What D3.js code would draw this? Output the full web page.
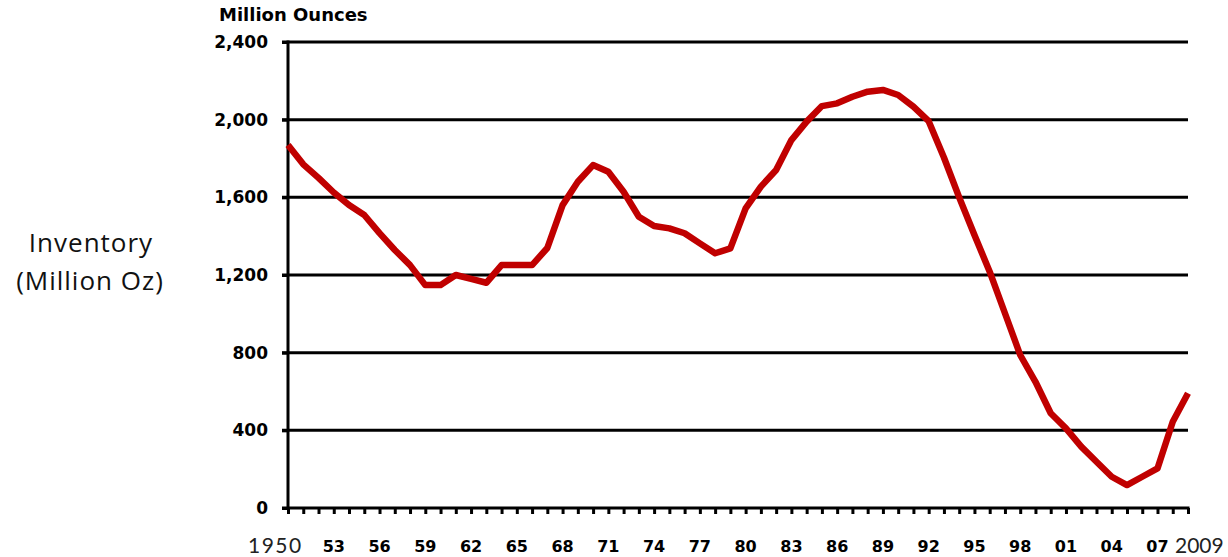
<!DOCTYPE html>
<html>
<head>
<meta charset="utf-8" />
<script src="https://d3js.org/d3.v7.min.js"></script>
<style>
body { margin: 0; background: #fff; }
.ylab text { font-family: "DejaVu Sans", sans-serif; font-weight: bold; font-size: 17px; fill: #000; }
.xlab { font-family: "DejaVu Sans", sans-serif; font-weight: bold; font-size: 16px; fill: #000; }
.xend { font-family: Lato, "Open Sans", sans-serif; font-size: 21px; fill: #222; }
.title { font-family: "DejaVu Sans", sans-serif; font-weight: bold; font-size: 18px; }
.side { font-family: "Open Sans", Lato, sans-serif; font-size: 26px; fill: #111; letter-spacing: 1px; }
</style>
</head>
<body>
<script>
// silver inventory, million oz, one value per year 1950..2009
var years = d3.range(1950, 2010);
var inventory = [
  1870, 1770, 1700, 1625, 1560, 1509, 1416, 1329, 1251, 1148,
  1148, 1200, 1180, 1160, 1251, 1251, 1251, 1339, 1560, 1680,
  1766, 1732, 1629, 1500, 1452, 1440, 1415, 1363, 1312, 1337,
  1543, 1655, 1741, 1895, 1990, 2070, 2084, 2118, 2144, 2153,
  2127, 2067, 1992, 1805, 1600, 1406, 1217, 1003, 788, 650,
  488, 410, 316, 238, 161, 118, 161, 204, 444, 591
];
var yTicks = [0, 400, 800, 1200, 1600, 2000, 2400];
var xLabelYears = d3.range(1953, 2008, 3);

var width = 1228, height = 557;
var x = d3.scaleLinear().domain([1950, 2009]).range([288, 1188]);
var y = d3.scaleLinear().domain([0, 2400]).range([508, 42]);

var svg = d3.select("body").append("svg")
    .attr("width", width)
    .attr("height", height);

// horizontal grid lines
svg.append("g").selectAll("line")
    .data(yTicks.slice(1))
  .enter().append("line")
    .attr("x1", 282).attr("x2", 1188)
    .attr("y1", function(d) { return y(d); })
    .attr("y2", function(d) { return y(d); })
    .attr("stroke", "#000").attr("stroke-width", 3);

// y axis with labels
var yAxis = svg.append("g")
    .attr("class", "ylab")
    .attr("transform", "translate(288,0)")
    .call(d3.axisLeft(y).tickValues(yTicks).tickSize(6).tickPadding(14).tickFormat(d3.format(",")));
yAxis.select(".domain").remove();
yAxis.selectAll(".tick line").attr("stroke", "#000").attr("stroke-width", 3);

svg.append("line")
    .attr("x1", 288).attr("x2", 288)
    .attr("y1", y(2400) - 1.5).attr("y2", y(0) + 1.5)
    .attr("stroke", "#000").attr("stroke-width", 3);

// x axis: small tick every year
var xAxis = svg.append("g")
    .attr("transform", "translate(0," + y(0) + ")")
    .call(d3.axisBottom(x).tickValues(years).tickSize(6).tickFormat(""));
xAxis.select(".domain").remove();
xAxis.selectAll(".tick line").attr("stroke", "#000").attr("stroke-width", 3);

svg.append("line")
    .attr("x1", 282).attr("x2", 1189.5)
    .attr("y1", y(0)).attr("y2", y(0))
    .attr("stroke", "#000").attr("stroke-width", 3);

// x labels
svg.append("g").selectAll("text")
    .data(xLabelYears)
  .enter().append("text")
    .attr("class", "xlab")
    .attr("x", function(d) { return x(d); })
    .attr("y", 552)
    .attr("text-anchor", "middle")
    .text(function(d) { return String(d).slice(2); });

svg.append("text").attr("class", "xend")
    .attr("x", 248).attr("y", 553)
    .style("letter-spacing", "1.5px")
    .text("1950");
svg.append("text").attr("class", "xend")
    .attr("x", 1175).attr("y", 553)
    .text("2009");

// data line
var line = d3.line()
    .x(function(d, i) { return x(years[i]); })
    .y(function(d) { return y(d); });

svg.append("path")
    .datum(inventory)
    .attr("fill", "none")
    .attr("stroke", "#c00000")
    .attr("stroke-width", 6.5)
    .attr("stroke-linejoin", "round")
    .attr("d", line);

// titles
svg.append("text").attr("class", "title")
    .attr("x", 219).attr("y", 21)
    .text("Million Ounces");

svg.append("text").attr("class", "side")
    .attr("x", 91).attr("y", 252)
    .attr("text-anchor", "middle")
    .text("Inventory");
svg.append("text").attr("class", "side")
    .attr("x", 90).attr("y", 290)
    .attr("text-anchor", "middle")
    .text("(Million Oz)");
</script>
</body>
</html>
